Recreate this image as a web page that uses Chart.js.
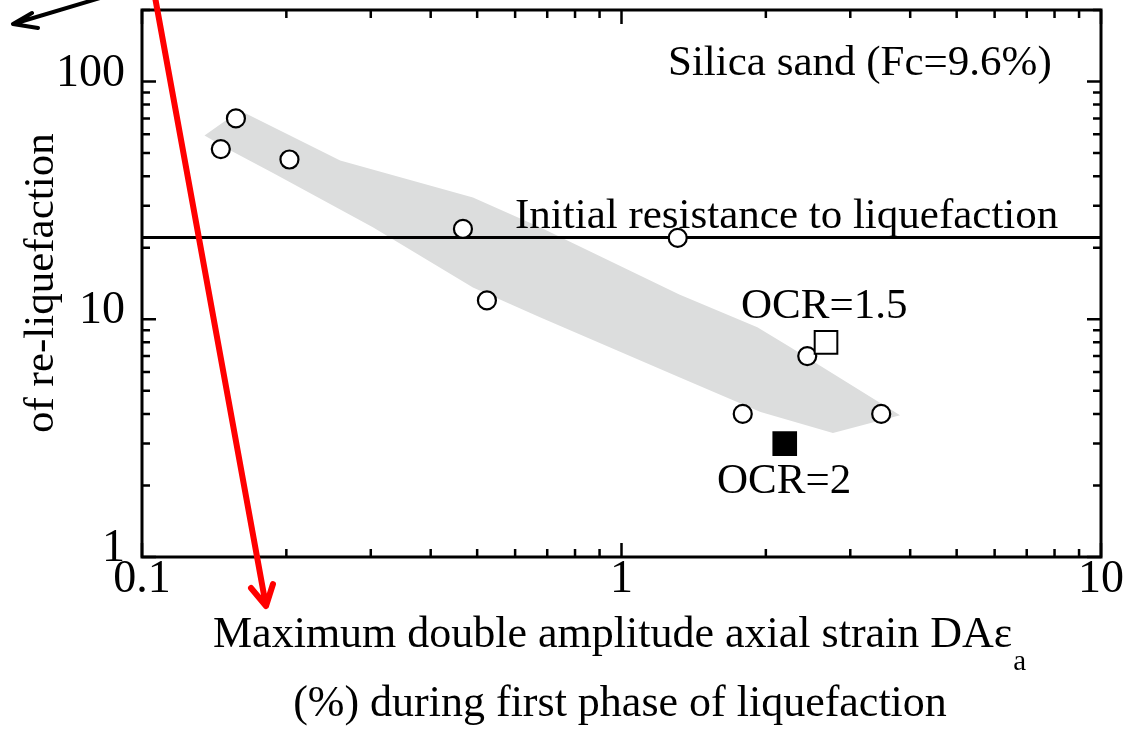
<!DOCTYPE html>
<html>
<head>
<meta charset="utf-8">
<script src="https://cdn.jsdelivr.net/npm/chart.js@4/dist/chart.umd.min.js"></script>
<style>
  body { margin: 0; background: #fff; }
  #wrap { width: 1131px; height: 736px; position: relative; }
</style>
</head>
<body>
<div id="wrap"><canvas id="chart"></canvas></div>
<script>
// measured points (DA strain %, cycles of re-liquefaction)
const strainPts = [0.146, 0.157, 0.203, 0.467, 0.524, 1.31, 2.44, 1.79, 3.48];
const cyclesPts = [52, 70, 47, 24, 12, 22, 7, 4, 4];
const ocr15Strain = [2.67];
const ocr15Cycles = [8];
const ocr2Strain = [2.19];
const ocr2Cycles = [3];
const initialResistance = 22.1;

// grey band outline (upper edge then lower edge)
const bandX = [0.135, 0.160, 0.259, 0.490, 0.676, 1.32, 1.92, 2.25, 3.81,
               2.76, 1.95, 1.32, 0.676, 0.490, 0.303, 0.188, 0.153, 0.135];
const bandY = [59.3, 75.5, 46.6, 32.5, 24.4, 12.7, 9.25, 7.63, 3.95,
               3.32, 4.07, 5.71, 10.2, 13.6, 24.4, 41.1, 51.3, 59.3];

const xTicks = [0.1, 0.2, 0.3, 0.4, 0.5, 0.6, 0.7, 0.8, 0.9, 1, 2, 3, 4, 5, 6, 7, 8, 9, 10];
const yTicks = [1, 2, 3, 4, 5, 6, 7, 8, 9, 10, 20, 30, 40, 50, 60, 70, 80, 90, 100, 200];
const xLabels = [0.1, 1, 10];
const yLabels = [1, 10, 100];

const serif = '"Liberation Serif", "Times New Roman", serif';
const pts = (xs, ys) => xs.map((x, i) => ({ x: x, y: ys[i] }));

const deco = {
    id: 'deco',
    afterDatasetsDraw(chart) {
        const { ctx, chartArea: a, scales } = chart;
        ctx.save();
        ctx.strokeStyle = '#000';
        ctx.lineWidth = 3;
        ctx.strokeRect(a.left, a.top, a.right - a.left, a.bottom - a.top);
        ctx.lineWidth = 2.5;
        ctx.beginPath();
        xTicks.forEach(v => {
            const px = scales.x.getPixelForValue(v);
            const len = xLabels.includes(v) ? 14 : 8;
            ctx.moveTo(px, a.bottom); ctx.lineTo(px, a.bottom - len);
            ctx.moveTo(px, a.top); ctx.lineTo(px, a.top + len);
        });
        yTicks.forEach(v => {
            const py = scales.y.getPixelForValue(v);
            const len = yLabels.includes(v) ? 14 : 8;
            ctx.moveTo(a.left, py); ctx.lineTo(a.left + len, py);
            ctx.moveTo(a.right, py); ctx.lineTo(a.right - len, py);
        });
        ctx.stroke();
        ctx.restore();
    },
    afterDraw(chart) {
        const ctx = chart.ctx;
        ctx.save();
        ctx.fillStyle = '#000';
        ctx.textBaseline = 'alphabetic';
        ctx.font = '43px ' + serif;
        ctx.textAlign = 'left';
        ctx.fillText('Silica sand (Fc=9.6%)', 668, 75);
        ctx.fillText('Initial resistance to liquefaction', 515, 228);
        ctx.fillText('OCR=1.5', 741, 318);
        ctx.fillText('OCR=2', 717, 493);

        // x axis title
        ctx.font = '44px ' + serif;
        const line1 = 'Maximum double amplitude axial strain DA\u03b5';
        const w1 = ctx.measureText(line1).width;
        ctx.fillText(line1, 213, 647);
        ctx.font = '29px ' + serif;
        ctx.fillText('a', 213 + w1 + 1, 670);
        ctx.font = '44px ' + serif;
        ctx.textAlign = 'center';
        ctx.fillText('(%) during first phase of liquefaction', 620, 716);

        // y axis title (cropped in the original)
        ctx.save();
        ctx.font = '43px ' + serif;
        ctx.translate(53, 433);
        ctx.rotate(-Math.PI / 2);
        ctx.textAlign = 'left';
        ctx.fillText('of re-liquefaction', 0, 0);
        ctx.restore();

        // overlay arrows
        ctx.lineCap = 'round';
        ctx.lineJoin = 'round';
        ctx.strokeStyle = '#000';
        ctx.lineWidth = 4;
        ctx.beginPath();
        ctx.moveTo(100, -2); ctx.lineTo(13, 24);
        ctx.moveTo(32, 13); ctx.lineTo(13, 24); ctx.lineTo(38, 28);
        ctx.stroke();

        ctx.strokeStyle = '#ff0000';
        ctx.lineWidth = 6;
        ctx.beginPath();
        ctx.moveTo(155, -3); ctx.lineTo(266, 606);
        ctx.moveTo(251, 588); ctx.lineTo(266, 606); ctx.lineTo(273, 584);
        ctx.stroke();
        ctx.restore();
    }
};

new Chart(document.getElementById('chart'), {
    type: 'scatter',
    data: {
        datasets: [
            {
                label: 'band',
                data: pts(bandX, bandY),
                showLine: true,
                fill: 'shape',
                backgroundColor: '#dcdddd',
                borderColor: '#dcdddd',
                borderWidth: 0,
                pointRadius: 0,
                tension: 0,
                order: 3
            },
            {
                label: 'initial',
                data: [{ x: 0.1, y: initialResistance }, { x: 10, y: initialResistance }],
                showLine: true,
                borderColor: '#000',
                borderWidth: 3,
                pointRadius: 0,
                order: 2
            },
            {
                label: 'tests',
                data: pts(strainPts, cyclesPts),
                pointStyle: 'circle',
                pointRadius: 9,
                pointBorderWidth: 2.2,
                pointBackgroundColor: '#fff',
                pointBorderColor: '#000',
                order: 1
            },
            {
                label: 'OCR=1.5',
                data: pts(ocr15Strain, ocr15Cycles),
                pointStyle: 'rect',
                pointRadius: 16,
                pointBorderWidth: 2,
                pointBackgroundColor: '#fff',
                pointBorderColor: '#000',
                order: 0
            },
            {
                label: 'OCR=2',
                data: pts(ocr2Strain, ocr2Cycles),
                pointStyle: 'rect',
                pointRadius: 16,
                pointBorderWidth: 2,
                pointBackgroundColor: '#000',
                pointBorderColor: '#000',
                order: 0
            }
        ]
    },
    options: {
        responsive: true,
        maintainAspectRatio: false,
        animation: false,
        layout: { autoPadding: false, padding: { top: 10, right: 30, left: 0, bottom: 0 } },
        plugins: { legend: { display: false }, tooltip: { enabled: false } },
        scales: {
            x: {
                type: 'logarithmic',
                min: 0.1,
                max: 10,
                afterBuildTicks: s => { s.ticks = xTicks.map(v => ({ value: v })); },
                afterFit: s => { s.height = 179; s.paddingLeft = 0; s.paddingRight = 0; },
                grid: { display: false, drawTicks: false },
                border: { display: false },
                ticks: {
                    autoSkip: false,
                    maxRotation: 0,
                    padding: 0,
                    color: '#000',
                    font: { family: serif, size: 46, lineHeight: 1 },
                    callback: v => xLabels.includes(v) ? String(v) : ''
                }
            },
            y: {
                type: 'logarithmic',
                min: 1,
                max: 200,
                afterBuildTicks: s => { s.ticks = yTicks.map(v => ({ value: v })); },
                afterFit: s => { s.width = 142; s.paddingTop = 0; s.paddingBottom = 0; },
                grid: { display: false, drawTicks: false },
                border: { display: false },
                ticks: {
                    autoSkip: false,
                    padding: 17,
                    labelOffset: -8,
                    color: '#000',
                    font: { family: serif, size: 46, lineHeight: 1 },
                    callback: v => yLabels.includes(v) ? String(v) : ''
                }
            }
        }
    },
    plugins: [deco]
});
</script>
</body>
</html>
